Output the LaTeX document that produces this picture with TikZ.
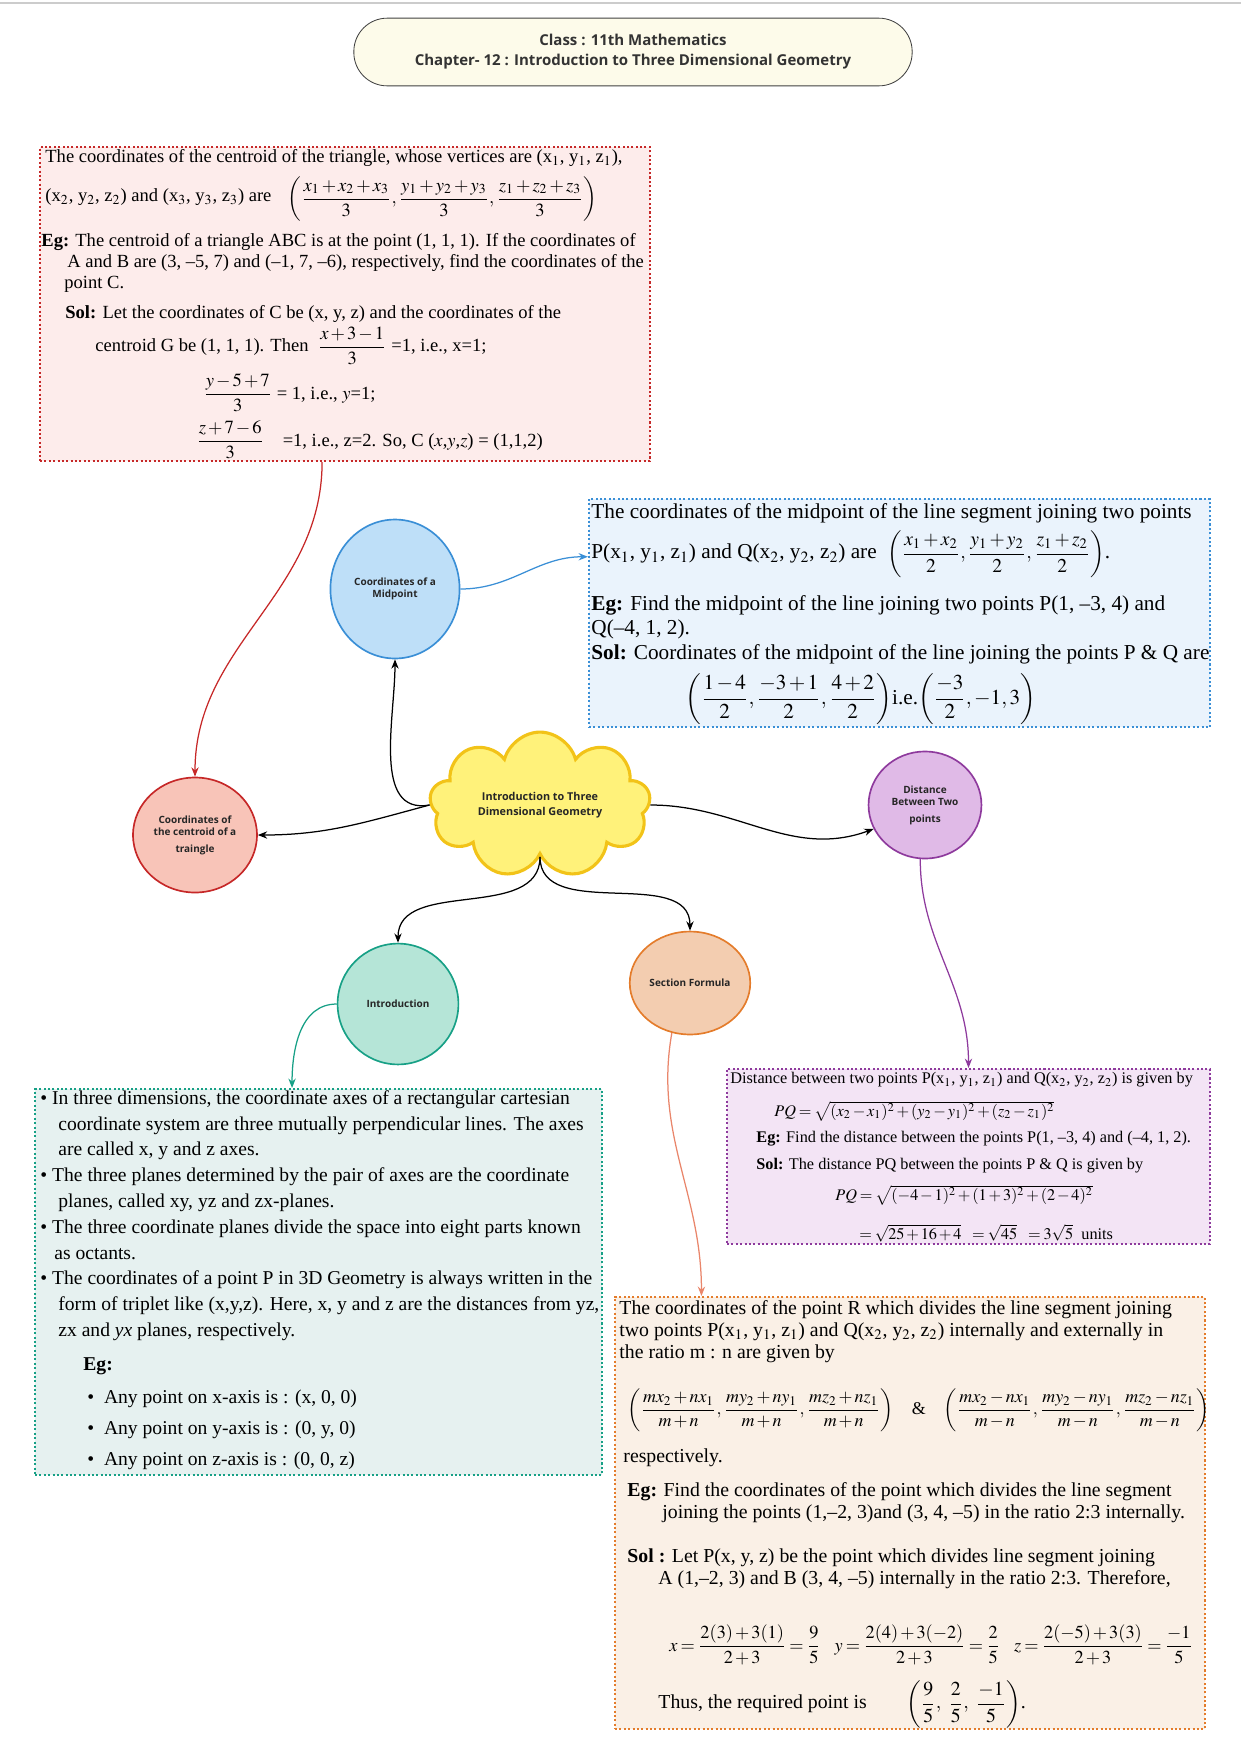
\documentclass[tikz,border=0pt]{standalone}
\usepackage{amsmath}
\usepackage{mathptmx}
\usepackage{fontspec}
\setmainfont{Liberation Serif}
\newfontfamily\headfont{Open Sans}
\usetikzlibrary{shapes.geometric,shapes.symbols,fit,arrows.meta}

\definecolor{titlefill}{HTML}{FDFBEA}
\definecolor{redline}{HTML}{C62828}
\definecolor{redfill}{HTML}{FDECEB}
\definecolor{redcirc}{HTML}{F8C4B8}
\definecolor{blueline}{HTML}{3A8FD6}
\definecolor{bluefill}{HTML}{EAF3FC}
\definecolor{bluecirc}{HTML}{BEDFF8}
\definecolor{tealline}{HTML}{17A086}
\definecolor{tealfill}{HTML}{E6F1F0}
\definecolor{tealcirc}{HTML}{B5E5D7}
\definecolor{purpline}{HTML}{8E3A9D}
\definecolor{purpfill}{HTML}{F3E4F5}
\definecolor{purpcirc}{HTML}{E0BAE7}
\definecolor{orngline}{HTML}{E47C2B}
\definecolor{orngfill}{HTML}{FAF0E6}
\definecolor{orngcirc}{HTML}{F3CDB0}
\definecolor{sectline}{HTML}{E9866B}
\definecolor{cloudfill}{HTML}{FFF27A}
\definecolor{cloudline}{HTML}{F2C318}

\medmuskip=2mu plus 1mu minus 1mu
\thickmuskip=3mu plus 2mu

\tikzset{
  infobox/.style={draw, rectangle, inner sep=0pt, line width=1pt, dash pattern=on 1pt off 1.1pt},
  topic/.style={ellipse, draw, line width=0.8pt, align=center, inner sep=1pt, text=black!85,
    font=\headfont\bfseries\fontsize{4.8}{6}\selectfont},
  ln/.style={anchor=west, inner sep=0pt},
  conn/.style={->, line width=0.6pt},
}

\begin{document}
\begin{tikzpicture}[x=0.48pt, y=-0.48pt, >={Stealth[length=4.5pt,width=3.5pt]}]
    \useasboundingbox (0,0) rectangle (1241,1755);
    \draw[gray!40, line width=0.6pt] (0,3) -- (1241,3);

    % titel
    \node[draw=black!75, fill=titlefill, rounded corners=16pt, minimum width=268pt, minimum height=32.5pt,
      align=center, text=black!80, font=\headfont\bfseries\fontsize{7.2}{9.6}\selectfont] (title) at (633,52)
      {Class : 11th Mathematics\\Chapter- 12 : Introduction to Three Dimensional Geometry};

    % kaesten
    \node[infobox, draw=redline, fill=redfill, fit={(40,147) (650,461)}] (cbox) {};
    \node[infobox, draw=blueline, fill=bluefill, fit={(589,499) (1210,727)}] (mbox) {};
    \node[infobox, draw=tealline, fill=tealfill, fit={(35,1089) (602,1475)}] (ibox) {};
    \node[infobox, draw=purpline, fill=purpfill, fit={(727,1069) (1210,1244)}] (dbox) {};
    \node[infobox, draw=orngline, fill=orngfill, fit={(615,1297) (1205,1729)}] (sbox) {};

    % schwerpunkt
    \begin{scope}[font=\fontsize{8.9}{10.5}\selectfont]
        \node[ln] (c1) at (45,158) {The coordinates of the centroid of the triangle, whose vertices are (x$_1$, y$_1$, z$_1$),};
        \node[ln] (c2) at (45,197) {(x$_2$, y$_2$, z$_2$) and (x$_3$, y$_3$, z$_3$) are};
        \node[ln] (c2t) at (287,199) {$\left(\dfrac{x_1+x_2+x_3}{3},\dfrac{y_1+y_2+y_3}{3},\dfrac{z_1+z_2+z_3}{3}\right)$};
        \node[ln] (c3) at (41,242) {\textbf{Eg:} The centroid of a triangle ABC is at the point (1, 1, 1). If the coordinates of};
        \node[ln] (c4) at (67,263) {A and B are (3, --5, 7) and (--1, 7, --6), respectively, find the coordinates of the};
        \node[ln] (c5) at (64,284) {point C.};
        \node[ln] (c6) at (65,314) {\textbf{Sol:} Let the coordinates of C be (x, y, z) and the coordinates of the};
        \node[ln] (c7) at (95,346) {centroid G be (1, 1, 1). Then\ \ $\dfrac{x+3-1}{3}$\ =1, i.e., x=1;};
        \node[ln] (c8) at (203,393) {$\dfrac{y-5+7}{3}$\ = 1, i.e., $y$=1;};
        \node[ln] (c9) at (196,440) {$\dfrac{z+7-6}{3}$\quad =1, i.e., z=2. So, C ($x$,$y$,$z$) = (1,1,2)};
    \end{scope}

    % mittelpunkt
    \begin{scope}[font=\fontsize{10.2}{12}\selectfont]
        \node[ln] (m1) at (591,513) {The coordinates of the midpoint of the line segment joining two points};
        \node[ln] (m2) at (591,554) {P(x$_1$, y$_1$, z$_1$) and Q(x$_2$, y$_2$, z$_2$) are\ \ {\fontsize{9.4}{11}\selectfont$\left(\dfrac{x_1+x_2}{2},\dfrac{y_1+y_2}{2},\dfrac{z_1+z_2}{2}\right)$}.};
        \node[ln] (m3) at (591,605) {\textbf{Eg:} Find the midpoint of the line joining two points P(1, --3, 4) and};
        \node[ln] (m4) at (591,629) {Q(--4, 1, 2).};
        \node[ln] (m5) at (591,654) {\textbf{Sol:} Coordinates of the midpoint of the line joining the points P \& Q are};
        \node[ln] (m6) at (685,699) {$\left(\dfrac{1-4}{2},\dfrac{-3+1}{2},\dfrac{4+2}{2}\right)$i.e.$\left(\dfrac{-3}{2},-1,3\right)$};
    \end{scope}

    % einfuehrung
    \begin{scope}[font=\fontsize{9.4}{12}\selectfont]
        \node[ln] (i1) at (40,1100) {\textbullet\ In three dimensions, the coordinate axes of a rectangular cartesian};
        \node[ln] (i2) at (58,1126) {coordinate system are three mutually perpendicular lines. The axes};
        \node[ln] (i3) at (58,1151) {are called x, y and z axes.};
        \node[ln] (i4) at (40,1177) {\textbullet\ The three planes determined by the pair of axes are the coordinate};
        \node[ln] (i5) at (58,1203) {planes, called xy, yz and zx-planes.};
        \node[ln] (i6) at (40,1229) {\textbullet\ The three coordinate planes divide the space into eight parts known};
        \node[ln] (i7) at (54,1254) {as octants.};
        \node[ln] (i8) at (40,1280) {\textbullet\ The coordinates of a point P in 3D Geometry is always written in the};
        \node[ln] (i9) at (58,1306) {form of triplet like (x,y,z). Here, x, y and z are the distances from yz,};
        \node[ln] (i10) at (58,1332) {zx and \textit{yx} planes, respectively.};
        \node[ln] (i11) at (83,1366) {\textbf{Eg:}};
        \node[ln] (i12) at (87,1399) {\textbullet\ \ Any point on x-axis is : (x, 0, 0)};
        \node[ln] (i13) at (87,1430) {\textbullet\ \ Any point on y-axis is : (0, y, 0)};
        \node[ln] (i14) at (87,1461) {\textbullet\ \ Any point on z-axis is : (0, 0, z)};
    \end{scope}

    % abstand
    \begin{scope}[font=\fontsize{7.8}{9.5}\selectfont]
        \node[ln] (d1) at (730,1080) {Distance between two points P(x$_1$, y$_1$, z$_1$) and Q(x$_2$, y$_2$, z$_2$) is given by};
        \node[ln] (d2) at (774,1111) {$PQ=\sqrt{(x_2-x_1)^2+(y_2-y_1)^2+(z_2-z_1)^2}$};
        \node[ln] (d3) at (756,1139) {\textbf{Eg:} Find the distance between the points P(1, --3, 4) and (--4, 1, 2).};
        \node[ln] (d4) at (756,1166) {\textbf{Sol:} The distance PQ between the points P \& Q is given by};
        \node[ln] (d5) at (835,1195) {$PQ=\sqrt{(-4-1)^2+(1+3)^2+(2-4)^2}$};
        \node[ln] (d6) at (859,1233) {$=\sqrt{25+16+4}\ \ =\sqrt{45}\ \ =3\sqrt{5}$\ \ units};
    \end{scope}

    % teilungsformel
    \begin{scope}[font=\fontsize{9.5}{11}\selectfont]
        \node[ln] (s1) at (619,1310) {The coordinates of the point R which divides the line segment joining};
        \node[ln] (s2) at (619,1332) {two points P(x$_1$, y$_1$, z$_1$) and Q(x$_2$, y$_2$, z$_2$) internally and externally in};
        \node[ln] (s3) at (619,1354) {the ratio m : n are given by};
        \node[ln, font=\fontsize{8.6}{10}\selectfont] (s4) at (627,1410) {$\left(\dfrac{mx_2+nx_1}{m+n},\dfrac{my_2+ny_1}{m+n},\dfrac{mz_2+nz_1}{m+n}\right)$\quad\&\quad$\left(\dfrac{mx_2-nx_1}{m-n},\dfrac{my_2-ny_1}{m-n},\dfrac{mz_2-nz_1}{m-n}\right)$};
        \node[ln] (s5) at (623,1458) {respectively.};
        \node[ln] (s6) at (627,1492) {\textbf{Eg:} Find the coordinates of the point which divides the line segment};
        \node[ln] (s7) at (662,1514) {joining the points (1,--2, 3)and (3, 4, --5) in the ratio 2:3 internally.};
        \node[ln] (s8) at (627,1558) {\textbf{Sol :} Let P(x, y, z) be the point which divides line segment joining};
        \node[ln] (s9) at (658,1580) {A (1,--2, 3) and B (3, 4, --5) internally in the ratio 2:3. Therefore,};
        \node[ln, font=\fontsize{8.8}{10}\selectfont] (s10) at (669,1645) {$x=\dfrac{2(3)+3(1)}{2+3}=\dfrac{9}{5}$\ \ \ $y=\dfrac{2(4)+3(-2)}{2+3}=\dfrac{2}{5}$\ \ \ $z=\dfrac{2(-5)+3(3)}{2+3}=\dfrac{-1}{5}$};
        \node[ln] (s11) at (658,1704) {Thus, the required point is};
        \node (s11t) at (966,1704) {$\left(\dfrac{9}{5},\ \dfrac{2}{5},\ \dfrac{-1}{5}\right)$.};
    \end{scope}

    % themen
    \node[topic, fill=bluecirc, draw=blueline, minimum width=62pt, minimum height=66.7pt] (mid) at (395,589) {Coordinates of a\\Midpoint};
    \node[topic, fill=redcirc, draw=redline, minimum width=59.5pt, minimum height=55.2pt] (cent) at (195,835) {Coordinates of\\the centroid of a\\[2pt]traingle};
    \node[topic, fill=purpcirc, draw=purpline, minimum width=54.2pt, minimum height=51.4pt] (dist) at (925,805) {Distance\\Between Two\\[2pt]points};
    \node[topic, fill=tealcirc, draw=tealline, minimum width=58pt, minimum height=58pt] (intro) at (398,1004) {Introduction};
    \node[topic, fill=orngcirc, draw=orngline, minimum width=54.7pt, minimum height=49.4pt] (sect) at (690,983) {Section Formula};
    \node[cloud, cloud puffs=9, cloud ignores aspect, draw=cloudline, fill=cloudfill, line width=1.5pt,
      minimum width=106pt, minimum height=70pt, inner sep=0pt,
      align=center, text=black!85, font=\headfont\bfseries\fontsize{5.2}{7.5}\selectfont] (cloud) at (540,805)
      {Introduction to Three\\Dimensional Geometry};

    % verbindungen
    \draw[conn, redline] ([xshift=-11pt]cbox.south) to[out=-90, in=90] (cent.north);
    \draw[conn, blueline] (mid.east) to[out=0, in=180] ([yshift=27pt]mbox.west);
    \draw[conn] (cloud.west) to[out=190, in=-90] (mid.south);
    \draw[conn] (cloud.west) to[out=195, in=0] (cent.east);
    \draw[conn] (cloud.east) to[out=0, in=200] (dist.205);
    \draw[conn] (cloud.south) to[out=-90, in=90] (intro.north);
    \draw[conn] (cloud.south) to[out=-90, in=90] (sect.north);
    \draw[conn, tealline] (intro.west) to[out=180, in=90] ([xshift=-12.7pt]ibox.north);
    \draw[conn, purpline] (dist.265) to[out=-90, in=90] (dbox.north);
    \draw[conn, sectline] (sect.250) to[out=-100, in=90] ([xshift=42pt]sbox.north west);
\end{tikzpicture}
\end{document}
